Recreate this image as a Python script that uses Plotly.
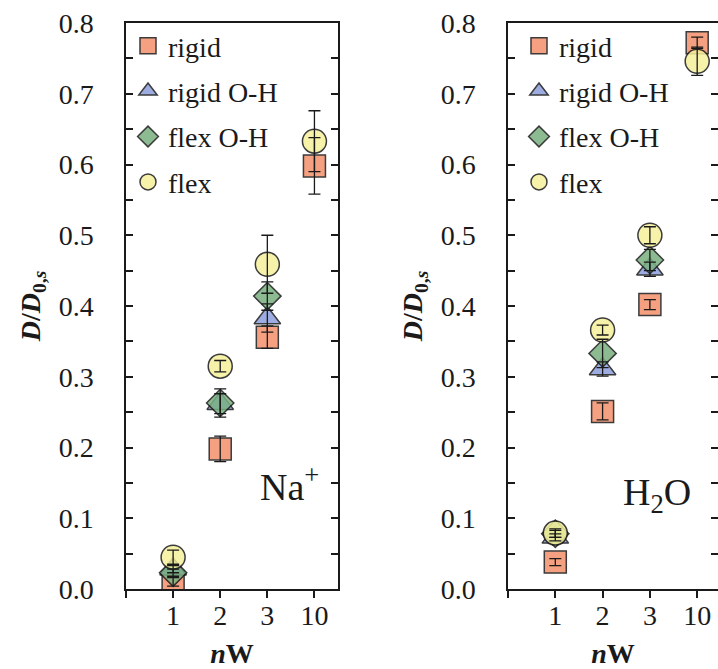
import plotly.graph_objects as go

# ---------------- data ----------------
nw_labels = ["1", "2", "3", "10"]
nw_pos = [1, 2, 3, 4]          # categorical positions on the axis

series_names = ["rigid", "rigid O-H", "flex O-H", "flex"]

# Na+ panel
na_rigid = [0.010, 0.198, 0.356, 0.598]
na_rigid_err = [0.006, 0.018, 0.016, 0.040]
na_rigidoh = [0.028, 0.262, 0.383, None]
na_rigidoh_err = [0.005, 0.014, 0.020, None]
na_flexoh = [0.023, 0.263, 0.414, None]
na_flexoh_err = [0.005, 0.020, 0.020, None]
na_flex = [0.045, 0.315, 0.459, 0.633]
na_flex_err = [0.010, 0.008, 0.041, 0.043]

# H2O panel
w_rigid = [0.038, 0.251, 0.402, 0.772]
w_rigid_err = [0.005, 0.012, 0.007, 0.008]
w_rigidoh = [0.073, 0.311, 0.452, None]
w_rigidoh_err = [0.005, 0.010, 0.010, None]
w_flexoh = [0.078, 0.333, 0.465, None]
w_flexoh_err = [0.005, 0.020, 0.015, None]
w_flex = [0.079, 0.366, 0.500, 0.746]
w_flex_err = [0.006, 0.007, 0.012, 0.020]

y_ticks = [0.0, 0.1, 0.2, 0.3, 0.4, 0.5, 0.6, 0.7, 0.8]

# ---------------- styles ----------------
FONT = "Liberation Serif"
INK = "#1a1a1a"
colors = ["#F4906B", "#8C9FDC", "#79B080", "#F6F09B"]
symbols = ["square", "triangle-up", "diamond", "circle"]
sizes = [22, 23, 21, 24]

panels = [
    dict(xa="x", ya="y", legend="legend",
         vals=[na_rigid, na_rigidoh, na_flexoh, na_flex],
         errs=[na_rigid_err, na_rigidoh_err, na_flexoh_err, na_flex_err]),
    dict(xa="x2", ya="y2", legend="legend2",
         vals=[w_rigid, w_rigidoh, w_flexoh, w_flex],
         errs=[w_rigid_err, w_rigidoh_err, w_flexoh_err, w_flex_err]),
]

fig = go.Figure()

for p in panels:
    for i, name in enumerate(series_names):
        fig.add_trace(go.Scatter(
            x=nw_pos, y=p["vals"][i], name=name, mode="markers",
            xaxis=p["xa"], yaxis=p["ya"], legend=p["legend"],
            legendgroup=p["legend"] + name,
            marker=dict(symbol=symbols[i], size=sizes[i], color=colors[i],
                        opacity=0.85,
                        line=dict(color=INK, width=1.5)),
        ))
    # error bars drawn on top of markers
    for i, name in enumerate(series_names):
        fig.add_trace(go.Scatter(
            x=nw_pos, y=p["vals"][i], mode="markers", showlegend=False,
            xaxis=p["xa"], yaxis=p["ya"], hoverinfo="skip",
            marker=dict(size=1, opacity=0),
            error_y=dict(type="data", array=p["errs"][i], visible=True,
                         color=INK, thickness=1.3, width=6),
        ))

W, H = 718, 669
xdom1 = [126 / W, 338 / W]
xdom2 = [508 / W, 1.0]
ydom = [80 / H, 646 / H]

axis_font = dict(family=FONT, size=28, color=INK)

def xaxis_cfg(dom, rng, anchor):
    return dict(domain=dom, range=rng, anchor=anchor, automargin=False,
                tickvals=[0] + nw_pos, ticktext=[""] + nw_labels,
                ticks="outside", ticklen=7, tickwidth=1.5, tickcolor=INK,
                showline=True, linecolor=INK, linewidth=1.5, mirror=True,
                showgrid=False, zeroline=False, tickfont=axis_font,
                ticklabelstandoff=-6,
                title=dict(text="<b><i>n</i>W</b>", font=dict(family=FONT, size=28, color=INK),
                           standoff=16))

def yaxis_cfg(anchor):
    return dict(domain=ydom, range=[0, 0.8], anchor=anchor, automargin=False,
                tickvals=y_ticks, tickformat=".1f",
                ticks="inside", ticklen=7, tickwidth=1.5, tickcolor=INK,
                minor=dict(dtick=0.05, tick0=0, ticks="inside", ticklen=7,
                           tickwidth=1.5, tickcolor=INK),
                showline=True, linecolor=INK, linewidth=1.5, mirror="ticks",
                showgrid=False, zeroline=False, tickfont=axis_font,
                ticklabelstandoff=25,
                title=dict(text="<b><i>D</i>/<i>D</i><sub>0,<i>s</i></sub></b>",
                           font=dict(family=FONT, size=28, color=INK),
                           standoff=10))

leg_common = dict(font=dict(family=FONT, size=28, color=INK),
                  bgcolor="rgba(0,0,0,0)", borderwidth=0,
                  tracegroupgap=6, traceorder="grouped",
                  xanchor="left", yanchor="top", itemwidth=30)

fig.update_layout(
    width=W, height=H,
    margin=dict(l=0, r=0, t=0, b=0),
    paper_bgcolor="white", plot_bgcolor="white",
    showlegend=True,
    xaxis=xaxis_cfg(xdom1, [0, 4.5], "y"),
    yaxis=yaxis_cfg("x"),
    xaxis2=xaxis_cfg(xdom2, [0, 4.44], "y2"),
    yaxis2=yaxis_cfg("x2"),
    legend=dict(x=128 / W, y=1 - 21 / H, **leg_common),
    legend2=dict(x=519 / W, y=1 - 21 / H, **leg_common),
    annotations=[
        dict(text="Na<sup>+</sup>", x=289 / W, y=1 - 484 / H, xref="paper", yref="paper",
             xanchor="center", yanchor="middle",
             showarrow=False, font=dict(family=FONT, size=38, color=INK)),
        dict(text="H<sub>2</sub>O", x=657 / W, y=1 - 495 / H, xref="paper", yref="paper",
             xanchor="center", yanchor="middle",
             showarrow=False, font=dict(family=FONT, size=38, color=INK)),
    ],
)

fig.write_html("out.html", config={"displayModeBar": False},
               post_script="document.body.style.margin='0';")
